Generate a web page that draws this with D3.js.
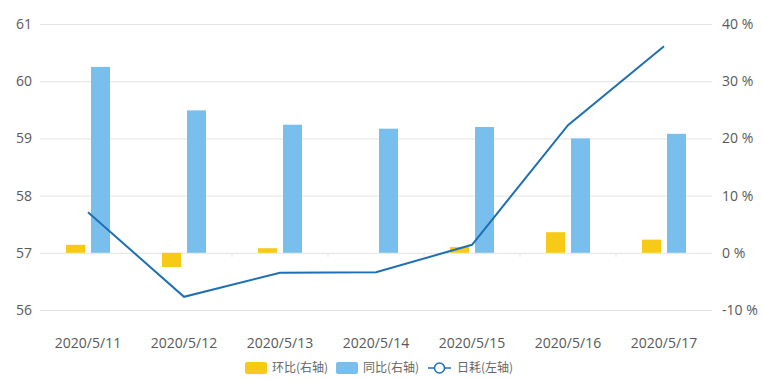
<!DOCTYPE html>
<html>
<head>
<meta charset="utf-8">
<script src="https://cdn.jsdelivr.net/npm/d3@7"></script>
<style>
  html, body { margin: 0; padding: 0; background: #fff; }
  svg text { font-family: "Open Sans", "Noto Sans CJK SC", sans-serif; fill: #595959; }
  svg text.cjk { font-family: "Noto Sans CJK SC", sans-serif; }
</style>
</head>
<body>
<svg id="chart" width="762" height="381"></svg>
<script>
// Dates on the category axis
const dates = ["2020/5/11", "2020/5/12", "2020/5/13", "2020/5/14", "2020/5/15", "2020/5/16", "2020/5/17"];
// 环比 (%), right axis
const hbValues = [1.4, -2.5, 0.8, 0, 1.0, 3.6, 2.3];
// 同比 (%), right axis
const tbValues = [32.5, 24.9, 22.4, 21.7, 22.0, 20.0, 20.8];
// 日耗, left axis
const dailyValues = [57.71, 56.23, 56.65, 56.66, 57.14, 59.23, 60.61];
// Axis ticks
const leftTicks = [56, 57, 58, 59, 60, 61];
const rightTicks = [-10, 0, 10, 20, 30, 40];
// Legend entries
const legendLabels = ["环比(右轴)", "同比(右轴)", "日耗(左轴)"];

const colors = { hb: "#f7ca18", tb: "#79bfee", line: "#1f6fb4" };

const svg = d3.select("#chart");
const plot = { left: 40, right: 712, top: 24, bottom: 310 };

const x = d3.scaleBand().domain(dates).range([plot.left, plot.right]);
const yL = d3.scaleLinear().domain([56, 61]).range([plot.bottom, plot.top]);
const yR = d3.scaleLinear().domain([-10, 40]).range([plot.bottom, plot.top]);

// Gridlines
const grid = svg.append("g")
  .attr("transform", `translate(${plot.left},0)`)
  .call(d3.axisRight(yL).tickValues(leftTicks).tickSize(plot.right - plot.left).tickFormat(""));
grid.select(".domain").remove();
grid.selectAll("line").attr("stroke", "#e3e3e3").attr("stroke-width", 1);

// Left axis labels
const axL = svg.append("g")
  .attr("transform", `translate(${plot.left - 8},0)`)
  .call(d3.axisLeft(yL).tickValues(leftTicks).tickSize(0).tickPadding(0).tickFormat(d3.format("d")));
axL.select(".domain").remove();
axL.selectAll("text").style("font-size", "14px").style("fill", "#595959");

// Right axis labels
const axR = svg.append("g")
  .attr("transform", `translate(${plot.right + 10},0)`)
  .call(d3.axisRight(yR).tickValues(rightTicks).tickSize(0).tickPadding(0).tickFormat(d => d + " %"));
axR.select(".domain").remove();
axR.selectAll("text").style("font-size", "14px").style("fill", "#595959");

// Category axis: faint ticks on the zero line at band edges, labels below
const zeroY = yR(0);
const edges = dates.slice(1).map(d => x(d));
svg.append("g").selectAll("line").data(edges).join("line")
  .attr("x1", d => d).attr("x2", d => d)
  .attr("y1", zeroY).attr("y2", zeroY + 4)
  .attr("stroke", "#e3e3e3");

const axX = svg.append("g")
  .attr("transform", `translate(0,${plot.bottom + 28})`)
  .call(d3.axisBottom(x).tickSize(0).tickPadding(0));
axX.select(".domain").remove();
axX.selectAll("text").style("font-size", "14px").style("fill", "#595959");

// Bars
const barW = 19, gap = 6;
const off = (barW + gap) / 2;
svg.append("g").selectAll("rect").data(dates.map((d, i) => ({ d, v: hbValues[i] }))).join("rect")
  .attr("x", p => x(p.d) + x.bandwidth() / 2 - off - barW / 2)
  .attr("width", barW)
  .attr("y", p => Math.min(yR(p.v), yR(0)))
  .attr("height", p => Math.abs(yR(p.v) - yR(0)))
  .attr("fill", colors.hb);

svg.append("g").selectAll("rect").data(dates.map((d, i) => ({ d, v: tbValues[i] }))).join("rect")
  .attr("x", p => x(p.d) + x.bandwidth() / 2 + off - barW / 2)
  .attr("width", barW)
  .attr("y", p => Math.min(yR(p.v), yR(0)))
  .attr("height", p => Math.abs(yR(p.v) - yR(0)))
  .attr("fill", colors.tb);

// Daily line
const line = d3.line()
  .x((v, i) => x(dates[i]) + x.bandwidth() / 2)
  .y(v => yL(v));
svg.append("path").datum(dailyValues)
  .attr("d", line)
  .attr("fill", "none")
  .attr("stroke", colors.line)
  .attr("stroke-width", 2);

// Legend
const lg = svg.append("g").attr("transform", "translate(0,368)");
lg.append("rect").attr("x", 245).attr("y", -6).attr("width", 22).attr("height", 12).attr("rx", 2).attr("fill", colors.hb);
lg.append("text").attr("class", "cjk").attr("x", 272).attr("y", 0).attr("dy", "0.35em").style("font-size", "12px").style("fill", "#666").text(legendLabels[0]);
lg.append("rect").attr("x", 336).attr("y", -6).attr("width", 22).attr("height", 12).attr("rx", 2).attr("fill", colors.tb);
lg.append("text").attr("class", "cjk").attr("x", 363).attr("y", 0).attr("dy", "0.35em").style("font-size", "12px").style("fill", "#666").text(legendLabels[1]);
lg.append("line").attr("x1", 428).attr("x2", 451).attr("y1", 0).attr("y2", 0).attr("stroke", colors.line).attr("stroke-width", 1.5);
lg.append("circle").attr("cx", 439.5).attr("cy", 0).attr("r", 5).attr("fill", "#fff").attr("stroke", colors.line).attr("stroke-width", 1.5);
lg.append("text").attr("class", "cjk").attr("x", 457).attr("y", 0).attr("dy", "0.35em").style("font-size", "12px").style("fill", "#666").text(legendLabels[2]);
</script>
</body>
</html>
